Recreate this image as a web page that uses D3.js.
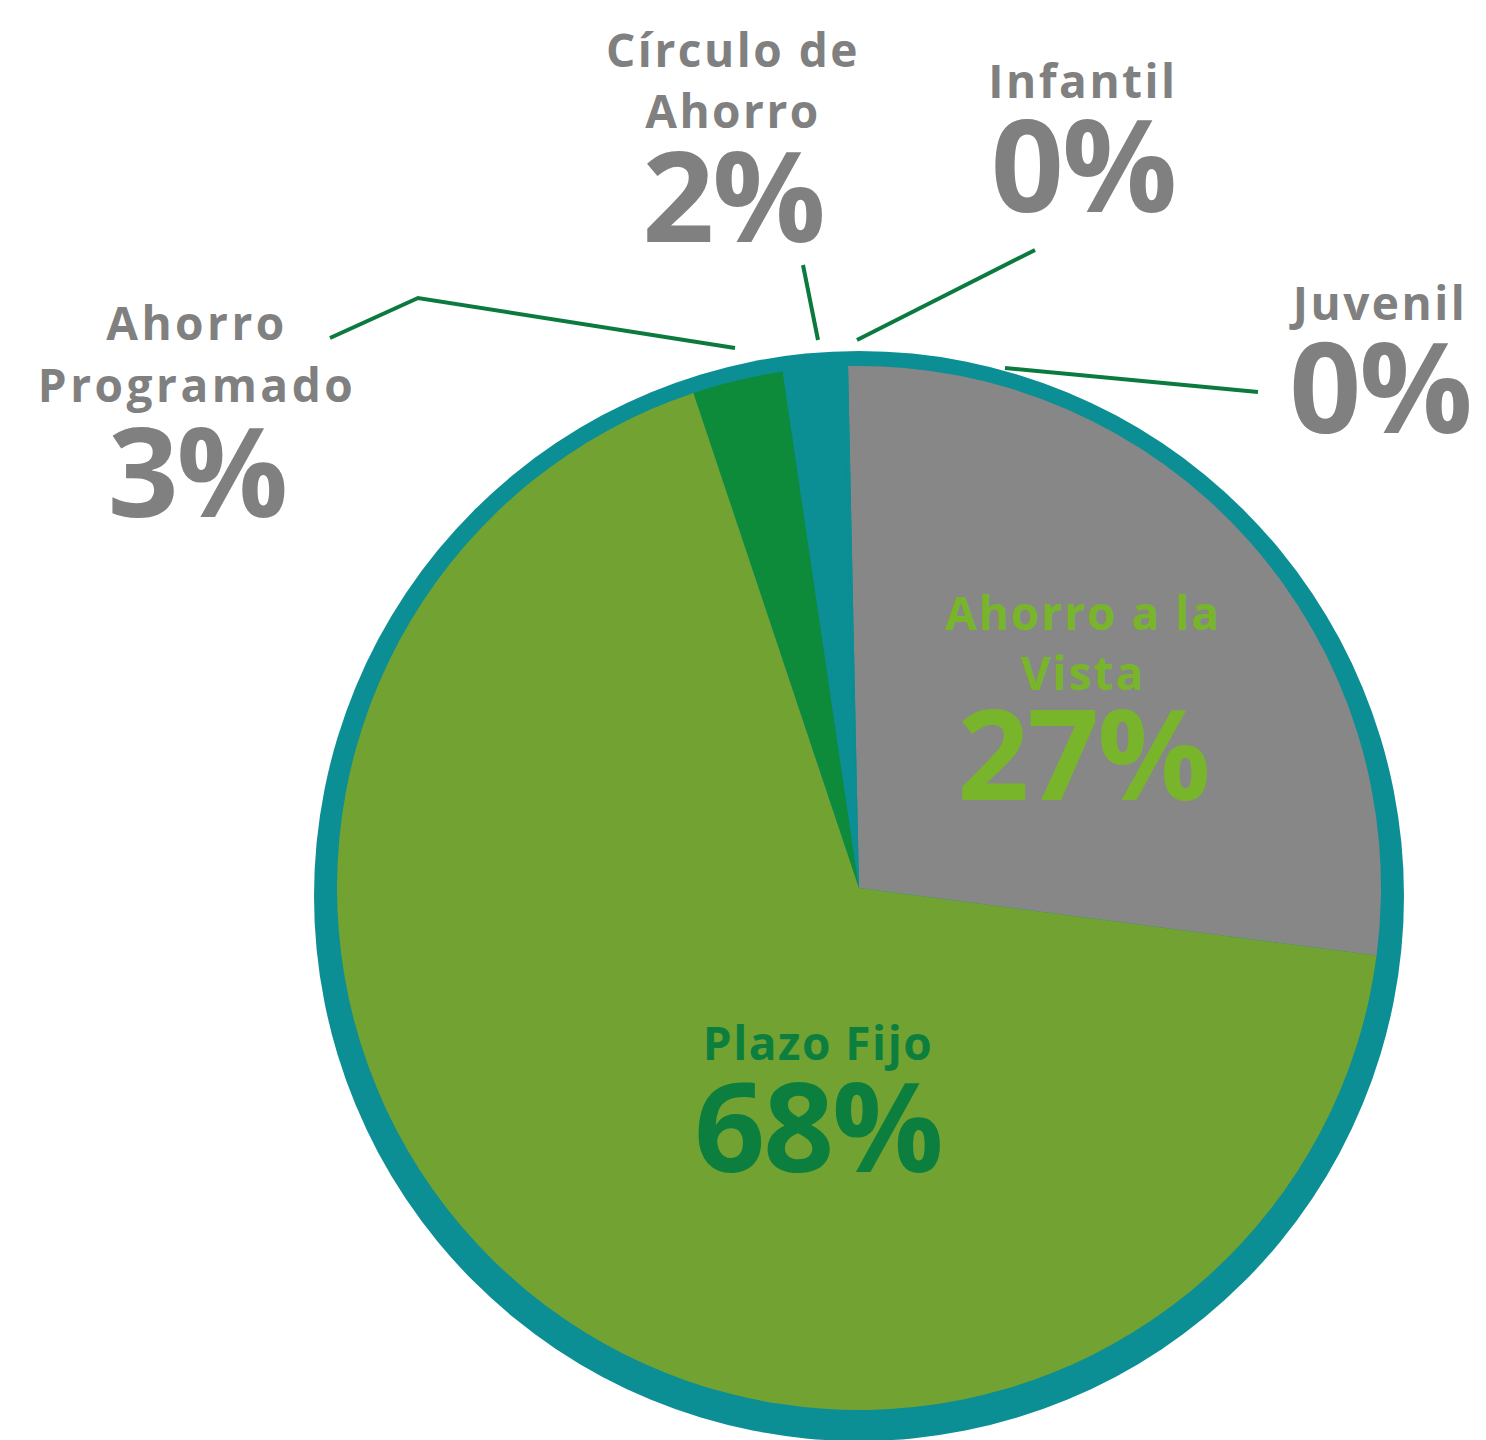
<!DOCTYPE html>
<html>
<head>
<meta charset="utf-8">
<script src="https://cdn.jsdelivr.net/npm/d3@7"></script>
<style>
  body { margin: 0; background: #ffffff; }
  text { font-family: "Open Sans", "Noto Sans", sans-serif; font-weight: 700; }
</style>
</head>
<body>
<div id="chart"></div>
<script>
// Data
var categories = ["Ahorro a la Vista", "Plazo Fijo", "Ahorro Programado", "Círculo de Ahorro", "Infantil", "Juvenil"];
var values = [27.4, 67.8, 2.8, 1.8, 0.1, 0.1];
var labelLines = [["Ahorro a la", "Vista"], ["Plazo Fijo"], ["Ahorro", "Programado"], ["Círculo de", "Ahorro"], ["Infantil"], ["Juvenil"]];

var colors = ["#878787", "#72a232", "#0e8a3b", "#0b8e94", "#0b8e94", "#0b8e94"];
var textColors = ["#79b52b", "#0c7f3f", "#808080", "#808080", "#808080", "#808080"];

var width = 1486, height = 1440;
var cx = 859, cy = 888, r = 522;

// label layout: anchor of the name lines and the percentage
var layout = [
  { x: 1083, y: 630, lh: 60, pctY: 800, fs: 46, pfs: 126, ls: 2 },
  { x: 818, y: 1060, lh: 60, pctY: 1172, fs: 46, pfs: 124, ls: 1.5 },
  { x: 197, y: 340, lh: 62, pctY: 517, fs: 46, pfs: 124, ls: 3.5 },
  { x: 733, y: 67, lh: 61, pctY: 242, fs: 46, pfs: 126, ls: 2.5 },
  { x: 1083, y: 98, lh: 60, pctY: 212, fs: 46, pfs: 128, ls: 2.5 },
  { x: 1380, y: 320, lh: 60, pctY: 433, fs: 46, pfs: 126, ls: 2.5 }
];

// leader lines: from just outside the ring toward the labels
var leaderStart = [null, null, [735, 348], [818, 340], [857, 340], [1005, 368]];
var leaderEnd = [null, null, [[418, 298], [330, 338]], [[803, 265]], [[1035, 250]], [[1258, 392]]];

var svg = d3.select("#chart")
  .append("svg")
  .attr("width", width)
  .attr("height", height);

// outer teal ring
svg.append("circle")
  .attr("cx", 859)
  .attr("cy", 896)
  .attr("r", 545)
  .attr("fill", "#0b8e94");

var start = -1.2 * Math.PI / 180;
var pie = d3.pie()
  .sort(null)
  .startAngle(start)
  .endAngle(start + 2 * Math.PI)
  .value(function(d) { return d; });

var arcs = pie(values);
var arc = d3.arc().innerRadius(0).outerRadius(r);

var g = svg.append("g").attr("transform", "translate(" + cx + "," + cy + ")");
g.selectAll("path")
  .data(arcs)
  .join("path")
  .attr("d", arc)
  .attr("fill", function(d, i) { return colors[i]; });

// leader lines
var line = d3.line();
leaderStart.forEach(function(p, i) {
  if (!p) return;
  svg.append("path")
    .attr("d", line([p].concat(leaderEnd[i])))
    .attr("fill", "none")
    .attr("stroke", "#0b7a3f")
    .attr("stroke-width", 4);
});

// labels
categories.forEach(function(c, i) {
  var L = layout[i];
  labelLines[i].forEach(function(t, j) {
    svg.append("text")
      .attr("x", L.x)
      .attr("y", L.y + j * L.lh)
      .attr("text-anchor", "middle")
      .attr("fill", textColors[i])
      .style("font-size", L.fs + "px")
      .style("letter-spacing", L.ls + "px")
      .text(t);
  });
  svg.append("text")
    .attr("x", L.x)
    .attr("y", L.pctY)
    .attr("text-anchor", "middle")
    .attr("fill", textColors[i])
    .style("font-size", L.pfs + "px")
    .style("letter-spacing", "-2px")
    .text(Math.round(values[i]) + "%");
});
</script>
</body>
</html>
